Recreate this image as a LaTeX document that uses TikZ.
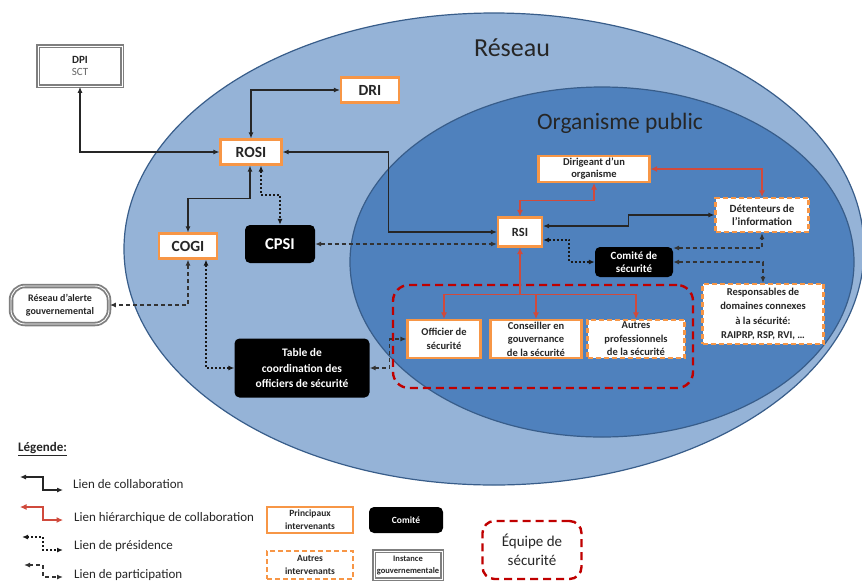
\documentclass[tikz,border=0pt]{standalone}
\usepackage{fontspec}
\setmainfont{Carlito}
\usetikzlibrary{arrows.meta}
\definecolor{outerC}{HTML}{95B3D7}
\definecolor{innerC}{HTML}{4F81BD}
\definecolor{edgeC}{HTML}{385D8A}
\definecolor{orangeC}{HTML}{F79646}
\definecolor{redC}{HTML}{D04A3C}
\definecolor{teamC}{HTML}{C00000}
\definecolor{txtC}{HTML}{262626}
\definecolor{govC}{HTML}{7F7F7F}
\newcommand{\fs}[2]{\fontsize{#1}{#2}\selectfont}
\begin{document}
\begin{tikzpicture}[x=1pt,y=-1pt,
  mainbox/.style={draw=orangeC, line width=2.2pt, fill=white, text=txtC, font=\bfseries, align=center, inner sep=1pt},
  otherbox/.style={mainbox, dash pattern=on 5pt off 3pt},
  comitebox/.style={fill=black, rounded corners=5pt, text=white, font=\bfseries, align=center, inner sep=1pt},
  govbox/.style={draw=govC, double=white, double distance=0.9pt, line width=1.8pt, fill=white, text=txtC, align=center, inner sep=1pt},
  teambox/.style={draw=teamC, line width=2.4pt, dash pattern=on 8pt off 5pt, rounded corners=16pt},
  collab/.style={draw=black!85, line width=1.1pt, >={Latex[length=6pt,width=5pt]}, <->},
  hier/.style={draw=redC, line width=1.1pt, >={Latex[length=6.5pt,width=6pt,fill=redC]}, <->},
  pres/.style={draw=black!90, line width=2pt, dash pattern=on 2pt off 2pt, >={Latex[length=6pt,width=5pt]}, <->},
  part/.style={draw=black!80, line width=1.2pt, dash pattern=on 4pt off 3pt, >={Latex[length=6pt,width=5pt]}, <->},
  lab/.style={text=txtC, inner sep=0pt}]
\useasboundingbox (0,0) rectangle (862,582);
\clip (0,0) rectangle (862,582);
\fill[white] (0,0) rectangle (862,582);
% ellipses
\draw[fill=outerC, draw=edgeC, line width=1.2pt] (494,249) ellipse [x radius=370, y radius=236];
\draw[fill=innerC, draw=edgeC, line width=1.2pt] (602,262) ellipse [x radius=252, y radius=175];
\node[lab, font=\fs{26}{30}] (reseau) at (512,48) {Réseau};
\node[lab, font=\fs{23.5}{27}] (orgpub) at (620,123) {Organisme public};
% security team
\node[teambox, minimum width=300pt, minimum height=103pt] (equipe) at (543,336.5) {};
% nodes
\node[govbox, minimum width=84pt, minimum height=40pt] (dpi) at (80,66) {{\fs{11}{12.5}\bfseries DPI}\\{\fs{11}{12.5}\color{govC!80!black}SCT}};
\node[mainbox, minimum width=58pt, minimum height=25pt, font=\fs{15.5}{17}\bfseries] (dri) at (370,90) {DRI};
\node[mainbox, minimum width=61pt, minimum height=25pt, font=\fs{15.5}{17}\bfseries] (rosi) at (251,152) {ROSI};
\node[mainbox, minimum width=58pt, minimum height=25pt, font=\fs{15.5}{17}\bfseries] (cogi) at (188,246) {COGI};
\node[comitebox, minimum width=70pt, minimum height=38pt, font=\fs{16.5}{18}\bfseries] (cpsi) at (280,244) {CPSI};
\node[mainbox, minimum width=44pt, minimum height=29pt, font=\fs{12.5}{14}\bfseries] (rsi) at (520,232) {RSI};
\node[mainbox, minimum width=111pt, minimum height=26pt, font=\fs{10.5}{12}\bfseries] (dir) at (594,169) {Dirigeant d’un\\organisme};
\node[otherbox, minimum width=93pt, minimum height=34pt, font=\fs{11}{13.5}\bfseries] (det) at (762,215) {Détenteurs de\\l’information};
\node[comitebox, minimum width=78pt, minimum height=30pt, font=\fs{11}{13.5}\bfseries] (comite) at (634,262) {Comité de\\sécurité};
\node[otherbox, minimum width=121pt, minimum height=60pt, font=\fs{10.5}{14.5}\bfseries] (resp) at (763,314) {Responsables de\\domaines connexes\\à la sécurité:\\RAIPRP, RSP, RVI, …};
\node[mainbox, minimum width=73pt, minimum height=38pt, font=\fs{10.5}{14.5}\bfseries] (officier) at (444,339) {Officier de\\sécurité};
\node[mainbox, minimum width=91pt, minimum height=38pt, font=\fs{10.5}{13.5}\bfseries] (conseil) at (536,339) {Conseiller en\\gouvernance\\de la sécurité};
\node[otherbox, minimum width=97pt, minimum height=38pt, font=\fs{10.5}{13.5}\bfseries] (autres) at (636,339) {Autres\\professionnels\\de la sécurité};
\node[comitebox, minimum width=135pt, minimum height=59pt, font=\fs{11.5}{15.5}\bfseries] (table) at (302,368) {Table de\\coordination\ des\\officiers de sécurité};
\node[govbox, rounded corners=14pt, minimum width=98pt, minimum height=38pt, font=\fs{10}{13}\bfseries] (alerte) at (60,305) {Réseau d’alerte\\gouvernemental};
% collaboration links
\draw[collab] (dpi.south) |- (rosi.west);
\draw[collab] (rosi.north) |- (dri.west);
\draw[collab] (rosi.east) -- ++(106,0) |- (rsi.west);
\draw[collab] ([xshift=-1pt]rosi.south) -- ++(0,33) -| (cogi.north);
\draw[collab] ([yshift=6pt]rsi.east) -- ++(85,0) |- (det.west);
% presidence links
\draw[pres] ([xshift=10pt]rosi.south) -- ++(0,29) -| (cpsi.north);
\draw[pres] ([xshift=18pt]cogi.south) |- (table.west);
\draw[pres] ([yshift=-8pt]rsi.east) -- ++(26,0) |- (comite.west);
% participation links
\draw[part] (cpsi.east) -- (cpsi.east -| rsi.west);
\draw[part] (cogi.south) |- (alerte.east);
\draw[part] (table.east) -- ++(20,0) |- (officier.west);
\draw[part] ([yshift=14pt]comite.east) -| (det.south);
\draw[part] (comite.east) -| (resp.north);
% hierarchical links
\draw[hier] (dir.east) -| (det.north);
\draw[hier] (dir.south) -- ++(0,17) -| (rsi.north);
\draw[hier, <-] (rsi.south) -- ++(0,47) coordinate (hub);
\draw[hier, ->] (hub) -| (officier.north);
\draw[hier, ->] (hub) -| (conseil.north);
\draw[hier, ->] (hub) -| (autres.north);
% legend
\node[lab, anchor=west, font=\fs{13}{15}\bfseries] (legtitle) at (18,449) {\underline{Légende:}};
\coordinate (c1) at (20,477); \coordinate (c1e) at (63,490);
\coordinate (c2) at (20,507); \coordinate (c2e) at (63,520);
\coordinate (c3) at (22,537); \coordinate (c3e) at (63,550);
\coordinate (c4) at (24,565); \coordinate (c4e) at (63,577);
\draw[collab] (c1) -- ++(23,0) |- (c1e);
\draw[hier] (c2) -- ++(23,0) |- (c2e);
\draw[pres] (c3) -- ++(21,0) |- (c3e);
\draw[part] (c4) -- ++(19,0) |- (c4e);
\node[lab, anchor=west, font=\fs{13}{15}] (l1) at (73,484) {Lien de collaboration};
\node[lab, anchor=west, font=\fs{13}{15}] (l2) at (74,518) {Lien hiérarchique de collaboration};
\node[lab, anchor=west, font=\fs{13}{15}] (l3) at (74,546) {Lien de présidence};
\node[lab, anchor=west, font=\fs{13}{15}] (l4) at (74,575) {Lien de participation};
\node[mainbox, minimum width=86pt, minimum height=26pt, font=\fs{9.5}{13}\bfseries] (lprinc) at (310,520) {Principaux\\intervenants};
\node[otherbox, minimum width=86pt, minimum height=28pt, font=\fs{9.5}{13}\bfseries] (lautres) at (310,565) {Autres\\intervenants};
\node[comitebox, minimum width=74pt, minimum height=26pt, font=\fs{9.5}{11}\bfseries] (lcomite) at (406,520) {Comité};
\node[govbox, minimum width=68pt, minimum height=28pt, font=\fs{8.5}{12}\bfseries] (lgov) at (408,565) {Instance\\gouvernementale};
\node[teambox, minimum width=99pt, minimum height=58pt, rounded corners=12pt, text=txtC, align=center, font=\fs{15}{18.5}] (lequipe) at (532,550) {Équipe de\\sécurité};
\end{tikzpicture}
\end{document}
